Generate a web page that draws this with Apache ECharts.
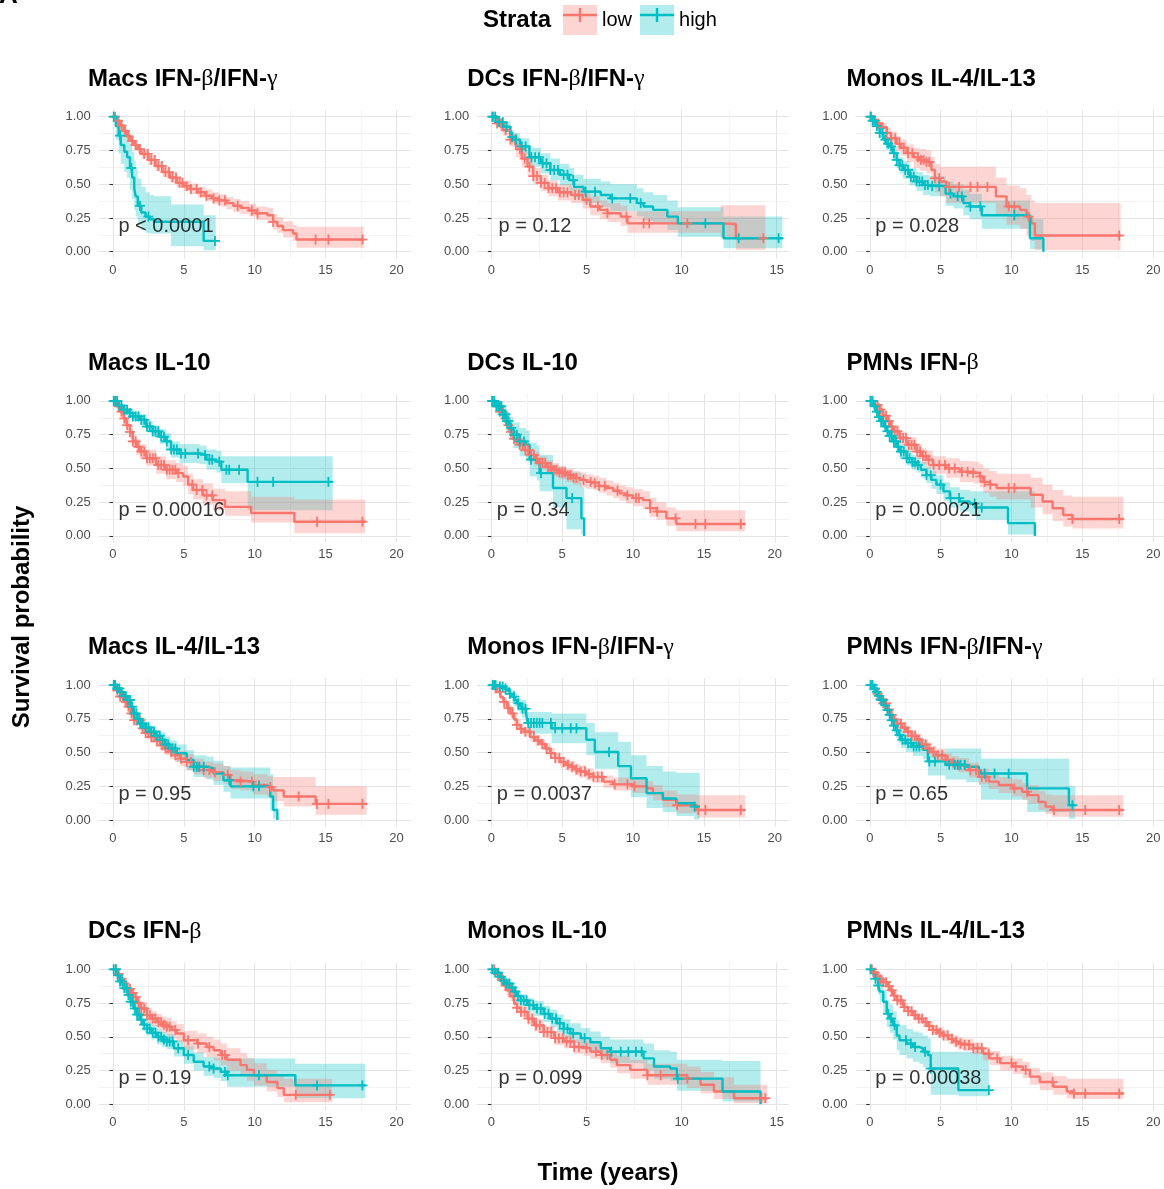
<!DOCTYPE html>
<html>
<head>
<meta charset="utf-8">
<script src="https://cdn.jsdelivr.net/npm/echarts@6/dist/echarts.min.js"></script>
<style>
  html, body { margin: 0; padding: 0; background: #ffffff; }
  #chart { width: 1164px; height: 1189px; }
</style>
</head>
<body>
<div id="chart"></div>
<script>
// Kaplan–Meier estimates per stratum.
// Each row: [time (years), survival, lower 95% CI, upper 95% CI]; the last row marks the end of follow-up.
// *_cens arrays hold the times of censored observations.

const macsIfnBG_low = [[0,1,1,1],[0.25,0.97,0.955,0.985],[0.5,0.935,0.915,0.955],[0.75,0.895,0.87,0.92],[1,0.855,0.83,0.88],[1.25,0.82,0.79,0.85],[1.5,0.79,0.76,0.82],[1.75,0.76,0.73,0.79],[2,0.725,0.69,0.76],[2.5,0.68,0.645,0.715],[3,0.635,0.6,0.67],[3.5,0.59,0.555,0.625],[4,0.55,0.515,0.585],[4.5,0.51,0.475,0.55],[5,0.485,0.45,0.525],[5.5,0.465,0.425,0.505],[6,0.44,0.4,0.48],[6.5,0.415,0.375,0.46],[7,0.395,0.355,0.44],[7.5,0.38,0.335,0.425],[8,0.36,0.315,0.405],[8.5,0.34,0.295,0.39],[9,0.325,0.28,0.375],[9.6,0.305,0.26,0.355],[10.1,0.285,0.235,0.335],[10.9,0.27,0.22,0.325],[11.3,0.22,0.165,0.28],[11.6,0.19,0.14,0.255],[12,0.16,0.105,0.225],[12.7,0.135,0.08,0.2],[12.95,0.09,0.03,0.185],[17.7,0.09,0.03,0.185]];
const macsIfnBG_lowCens = [0.15,0.35,0.6,0.85,1.1,1.35,1.6,1.9,2.2,2.45,2.7,2.95,3.2,3.45,3.7,3.95,4.2,4.45,4.7,4.9,5.2,5.5,5.9,6.2,6.6,7.1,7.5,7.9,8.8,9.8,10.2,11.3,14.3,15.2,17.6];
const macsIfnBG_high = [[0,1,1,1],[0.2,0.93,0.83,0.99],[0.4,0.86,0.73,0.96],[0.55,0.79,0.65,0.93],[0.8,0.74,0.59,0.9],[1,0.7,0.55,0.87],[1.2,0.62,0.46,0.8],[1.35,0.55,0.39,0.74],[1.5,0.47,0.31,0.67],[1.6,0.41,0.26,0.61],[1.75,0.34,0.2,0.54],[2,0.29,0.16,0.48],[2.3,0.26,0.14,0.44],[2.6,0.24,0.135,0.42],[2.9,0.222,0.135,0.41],[4.1,0.222,0.04,0.35],[6.4,0.08,0.01,0.27],[7.25,0.08,0.01,0.27]];
const macsIfnBG_highCens = [0.05,0.5,1.3,1.9,2.5,7.2];

const dcsIfnBG_low = [[0,1,1,1],[0.3,0.95,0.92,0.98],[0.6,0.9,0.86,0.94],[1,0.83,0.78,0.88],[1.3,0.76,0.7,0.81],[1.6,0.69,0.63,0.75],[1.9,0.63,0.57,0.69],[2.2,0.56,0.5,0.62],[2.6,0.51,0.45,0.57],[3,0.47,0.41,0.53],[3.5,0.44,0.38,0.5],[4.2,0.42,0.36,0.48],[4.8,0.385,0.32,0.45],[5.2,0.335,0.27,0.41],[5.7,0.31,0.24,0.38],[6.1,0.285,0.22,0.36],[6.8,0.26,0.19,0.34],[7.15,0.21,0.14,0.3],[12.05,0.205,0.1,0.345],[12.85,0.1,0.012,0.345],[14.4,0.1,0.012,0.345]];
const dcsIfnBG_lowCens = [0.1,0.3,0.5,0.75,1,1.25,1.5,1.75,2,2.2,2.4,2.6,2.8,3,3.2,3.4,3.6,3.8,4,4.4,4.6,5,5.6,6.1,7.1,8,8.3,10.3,14.3];
const dcsIfnBG_high = [[0,1,1,1],[0.3,0.96,0.93,0.99],[0.65,0.925,0.89,0.96],[1,0.85,0.8,0.9],[1.2,0.83,0.78,0.88],[1.5,0.78,0.72,0.84],[2,0.7,0.63,0.77],[2.6,0.655,0.58,0.73],[3.1,0.605,0.53,0.69],[3.6,0.57,0.49,0.65],[4.1,0.53,0.45,0.62],[4.35,0.48,0.4,0.57],[4.85,0.445,0.36,0.54],[5.75,0.42,0.33,0.52],[6.25,0.395,0.3,0.5],[7.65,0.36,0.26,0.47],[8,0.335,0.23,0.44],[8.5,0.31,0.21,0.42],[9.25,0.26,0.16,0.38],[9.8,0.21,0.11,0.33],[12.2,0.1,0.025,0.26],[15.3,0.1,0.025,0.26]];
const dcsIfnBG_highCens = [0.05,0.2,0.4,0.6,0.8,1.1,1.3,1.6,1.8,2.1,2.3,2.5,2.7,2.9,3.1,3.3,3.5,3.8,4,4.3,4.95,5.45,6.35,7.3,7.85,11.25,13,15.1];

const monosIl413_low = [[0,1,1,1],[0.25,0.975,0.955,0.995],[0.5,0.95,0.92,0.98],[0.8,0.92,0.885,0.955],[1.2,0.88,0.835,0.92],[1.5,0.84,0.79,0.89],[1.9,0.8,0.745,0.855],[2.2,0.77,0.71,0.83],[2.6,0.73,0.665,0.795],[3.1,0.7,0.62,0.77],[3.5,0.68,0.6,0.76],[4,0.665,0.58,0.75],[4.35,0.605,0.51,0.7],[4.6,0.545,0.44,0.65],[4.95,0.52,0.41,0.63],[5.4,0.48,0.36,0.63],[8.9,0.41,0.28,0.55],[9.65,0.335,0.2,0.49],[10.6,0.31,0.17,0.47],[11.05,0.26,0.12,0.42],[11.4,0.21,0.08,0.38],[11.65,0.12,0.012,0.36],[17.7,0.12,0.012,0.36]];
const monosIl413_lowCens = [0.1,0.3,0.6,0.9,1.2,1.5,1.8,2.1,2.4,2.7,3,3.4,3.6,3.8,4,4.2,4.6,4.9,5.6,6.3,7.1,7.6,8.3,9.8,10.2,11.2,17.6];
const monosIl413_high = [[0,1,1,1],[0.2,0.97,0.95,0.99],[0.45,0.93,0.9,0.96],[0.7,0.88,0.845,0.915],[0.95,0.83,0.79,0.87],[1.15,0.8,0.755,0.845],[1.4,0.78,0.73,0.83],[1.65,0.73,0.675,0.785],[1.9,0.68,0.62,0.74],[2.1,0.64,0.58,0.7],[2.35,0.605,0.54,0.67],[2.8,0.555,0.49,0.62],[3.3,0.52,0.45,0.59],[3.75,0.495,0.42,0.57],[4.2,0.485,0.41,0.56],[5.35,0.43,0.34,0.52],[5.9,0.41,0.32,0.5],[6.6,0.36,0.27,0.46],[7.05,0.335,0.24,0.43],[7.9,0.27,0.17,0.38],[11.3,0.1,0.02,0.24],[12.25,0,0,0]];
const monosIl413_highCens = [0.05,0.2,0.35,0.5,0.7,0.9,1.1,1.3,1.5,1.7,1.9,2.1,2.3,2.5,2.7,2.9,3.1,3.3,3.5,3.7,3.9,4.1,4.4,4.9,5.7,6.2,6.5,7.1,7.8,10.2];

const macsIl10_low = [[0,1,1,1],[0.25,0.96,0.94,0.98],[0.5,0.92,0.89,0.95],[0.75,0.87,0.83,0.91],[0.95,0.82,0.78,0.86],[1.2,0.77,0.72,0.82],[1.4,0.7,0.65,0.75],[1.65,0.66,0.6,0.72],[1.9,0.625,0.57,0.68],[2.35,0.575,0.52,0.64],[3.05,0.525,0.46,0.59],[3.75,0.49,0.42,0.56],[4.45,0.465,0.4,0.54],[4.95,0.44,0.37,0.52],[5.3,0.38,0.31,0.46],[5.65,0.34,0.27,0.42],[6.35,0.3,0.23,0.39],[7.05,0.265,0.19,0.35],[7.9,0.215,0.15,0.33],[9.75,0.17,0.1,0.29],[12.8,0.105,0.02,0.27],[17.8,0.105,0.02,0.27]];
const macsIl10_lowCens = [0.2,0.4,0.6,0.8,1,1.2,1.4,1.6,1.8,2,2.2,2.4,2.6,2.8,3,3.2,3.4,3.6,3.8,4,4.2,4.4,4.6,5.6,5.9,6.3,6.6,7,14.4,17.6];
const macsIl10_high = [[0,1,1,1],[0.35,0.965,0.95,0.98],[0.7,0.935,0.91,0.96],[1.05,0.91,0.88,0.94],[1.4,0.885,0.85,0.92],[1.9,0.86,0.82,0.9],[2.35,0.81,0.77,0.85],[2.8,0.775,0.73,0.82],[3.3,0.735,0.68,0.79],[3.75,0.7,0.64,0.76],[4.1,0.64,0.58,0.7],[4.7,0.61,0.54,0.68],[6.1,0.6,0.53,0.67],[6.6,0.565,0.49,0.64],[7.3,0.55,0.47,0.63],[7.65,0.49,0.39,0.59],[9.5,0.4,0.19,0.59],[15.5,0.4,0.19,0.59]];
const macsIl10_highCens = [0.05,0.15,0.3,0.45,0.6,0.8,1,1.2,1.4,1.6,1.8,2,2.2,2.4,2.6,2.8,3,3.2,3.4,3.6,3.8,4.1,4.3,4.5,4.8,5.1,6,6.5,6.8,7,7.5,8,8.2,8.9,10.2,11.3,15.2];

const dcsIl10_low = [[0,1,1,1],[0.3,0.96,0.94,0.98],[0.6,0.92,0.89,0.95],[0.85,0.87,0.84,0.9],[1.05,0.82,0.79,0.85],[1.3,0.77,0.73,0.81],[1.55,0.72,0.68,0.76],[2,0.675,0.63,0.72],[2.35,0.635,0.59,0.68],[2.7,0.6,0.55,0.65],[3.05,0.57,0.52,0.62],[3.4,0.54,0.49,0.59],[3.9,0.51,0.46,0.56],[4.35,0.49,0.44,0.54],[4.8,0.47,0.42,0.52],[5.3,0.45,0.4,0.5],[5.8,0.43,0.38,0.48],[6.25,0.415,0.36,0.47],[6.7,0.4,0.35,0.455],[7.2,0.39,0.34,0.445],[7.6,0.37,0.32,0.43],[8.1,0.355,0.3,0.41],[8.6,0.335,0.28,0.39],[9.05,0.315,0.26,0.375],[9.5,0.3,0.24,0.36],[10,0.28,0.22,0.345],[10.7,0.265,0.2,0.33],[11.2,0.205,0.14,0.28],[11.65,0.18,0.12,0.25],[12.35,0.13,0.075,0.21],[13.05,0.088,0.035,0.19],[17.9,0.088,0.035,0.19]];
const dcsIl10_lowCens = [0.2,0.4,0.6,0.8,1,1.2,1.4,1.6,1.8,2,2.2,2.4,2.6,2.8,3,3.2,3.4,3.6,3.8,4,4.2,4.4,4.6,4.8,5,5.2,5.4,5.6,5.8,6,6.5,7,7.3,7.6,8,8.9,9.6,10.2,10.4,11.2,11.7,13,14.4,15.1,17.6];
const dcsIl10_high = [[0,1,1,1],[0.35,0.96,0.92,1],[0.8,0.9,0.84,0.96],[1.05,0.85,0.77,0.92],[1.3,0.8,0.71,0.88],[1.55,0.75,0.65,0.84],[2,0.7,0.59,0.8],[2.45,0.675,0.56,0.78],[2.7,0.565,0.44,0.69],[3.2,0.54,0.41,0.67],[3.4,0.465,0.33,0.6],[4.35,0.355,0.21,0.51],[5.3,0.28,0.05,0.47],[6.35,0.13,0.01,0.36],[6.55,0,0,0]];
const dcsIl10_highCens = [0.05,0.2,0.35,0.5,0.6,0.7,0.8,0.9,1,1.1,1.2,1.4,1.6,1.8,2,2.3,2.8,3.5,5.7];

const pmnsIfnB_low = [[0,1,1,1],[0.3,0.97,0.95,0.99],[0.7,0.935,0.91,0.96],[0.95,0.89,0.86,0.92],[1.2,0.85,0.81,0.89],[1.45,0.81,0.77,0.85],[1.65,0.775,0.73,0.82],[2.1,0.725,0.68,0.77],[2.6,0.675,0.62,0.73],[3.3,0.625,0.57,0.68],[3.7,0.59,0.53,0.65],[4,0.565,0.5,0.63],[4.45,0.525,0.46,0.59],[5.4,0.5,0.43,0.575],[6.35,0.475,0.4,0.555],[7.3,0.465,0.39,0.55],[7.75,0.44,0.36,0.53],[8,0.4,0.32,0.5],[8.45,0.38,0.29,0.48],[8.95,0.355,0.27,0.46],[11.35,0.305,0.21,0.43],[12.2,0.255,0.16,0.38],[12.9,0.205,0.11,0.34],[13.65,0.155,0.07,0.3],[14.3,0.125,0.055,0.29],[17.9,0.125,0.055,0.29]];
const pmnsIfnB_lowCens = [0.15,0.35,0.55,0.75,0.95,1.15,1.35,1.55,1.75,1.95,2.15,2.35,2.55,2.75,2.95,3.15,3.35,3.55,3.75,3.95,4.15,4.5,4.9,5.3,5.6,6,6.5,6.9,7.3,7.8,8.1,8.5,9.8,10.2,14.3,17.6];
const pmnsIfnB_high = [[0,1,1,1],[0.25,0.96,0.94,0.98],[0.45,0.92,0.89,0.95],[0.65,0.88,0.85,0.91],[0.8,0.85,0.81,0.89],[1,0.81,0.77,0.85],[1.2,0.775,0.73,0.82],[1.4,0.74,0.69,0.79],[1.65,0.7,0.65,0.75],[1.9,0.66,0.61,0.71],[2.1,0.625,0.57,0.68],[2.6,0.575,0.52,0.63],[3,0.545,0.49,0.6],[3.3,0.525,0.47,0.58],[3.6,0.49,0.43,0.55],[4,0.45,0.39,0.51],[4.35,0.415,0.35,0.48],[4.7,0.38,0.31,0.45],[5.2,0.33,0.26,0.4],[5.65,0.28,0.21,0.36],[6.35,0.255,0.18,0.34],[7.05,0.24,0.16,0.33],[7.5,0.21,0.12,0.33],[9.75,0.095,0.01,0.33],[11.65,0,0,0]];
const pmnsIfnB_highCens = [0.05,0.2,0.35,0.5,0.65,0.8,0.95,1.1,1.25,1.4,1.55,1.7,1.85,2,2.2,2.4,2.6,2.8,3,3.2,3.4,4,4.3,5,5.7,6.3,7.4,7.9];

const macsIl413_low = [[0,1,1,1],[0.25,0.96,0.94,0.98],[0.5,0.915,0.89,0.94],[0.75,0.875,0.85,0.9],[1,0.84,0.81,0.87],[1.25,0.79,0.76,0.82],[1.45,0.74,0.7,0.78],[1.95,0.68,0.64,0.72],[2.3,0.645,0.6,0.69],[2.65,0.615,0.57,0.66],[3,0.585,0.54,0.63],[3.35,0.555,0.51,0.6],[3.7,0.53,0.48,0.58],[4.05,0.505,0.45,0.56],[4.4,0.48,0.43,0.53],[4.75,0.455,0.4,0.51],[5.2,0.43,0.37,0.49],[5.7,0.395,0.34,0.455],[6.4,0.37,0.31,0.435],[7.1,0.355,0.29,0.42],[7.8,0.335,0.27,0.4],[8.3,0.295,0.23,0.37],[9,0.285,0.22,0.36],[9.9,0.26,0.19,0.34],[10.9,0.245,0.17,0.325],[11.3,0.22,0.14,0.32],[12.05,0.175,0.1,0.32],[14.3,0.12,0.04,0.25],[17.9,0.12,0.04,0.25]];
const macsIl413_lowCens = [0.1,0.3,0.5,0.7,0.9,1.1,1.3,1.5,1.7,1.9,2.1,2.3,2.5,2.7,2.9,3.1,3.3,3.5,3.7,3.9,4.1,4.4,4.8,5.2,5.5,6,6.4,6.8,7.2,8.1,9,9.8,10.3,11.1,13.1,14.4,15.2,17.6];
const macsIl413_high = [[0,1,1,1],[0.25,0.975,0.96,0.99],[0.5,0.95,0.93,0.97],[0.75,0.92,0.89,0.95],[1,0.89,0.86,0.92],[1.25,0.84,0.8,0.88],[1.45,0.79,0.75,0.83],[1.7,0.75,0.71,0.79],[1.95,0.715,0.67,0.76],[2.3,0.685,0.64,0.73],[2.65,0.655,0.61,0.7],[3,0.625,0.58,0.67],[3.35,0.595,0.54,0.65],[3.7,0.56,0.5,0.62],[4.05,0.53,0.47,0.59],[4.5,0.495,0.43,0.56],[5.2,0.445,0.37,0.52],[5.7,0.395,0.32,0.48],[6.6,0.385,0.3,0.47],[7.1,0.345,0.26,0.44],[7.8,0.295,0.21,0.4],[8.3,0.25,0.16,0.39],[11.1,0.175,0.07,0.34],[11.3,0.075,0.01,0.25],[11.6,0,0,0]];
const macsIl413_highCens = [0.05,0.15,0.3,0.45,0.6,0.75,0.9,1.05,1.2,1.35,1.5,1.65,1.8,1.95,2.1,2.3,2.5,2.7,2.9,3.1,3.3,3.5,3.7,3.9,4.2,4.4,5.7,5.9,6.1,6.4,8.2,9.9,10.3];

const monosIfnBG_low = [[0,1,1,1],[0.2,0.975,0.96,0.99],[0.4,0.95,0.93,0.97],[0.65,0.91,0.89,0.93],[0.85,0.875,0.85,0.9],[1.1,0.83,0.8,0.86],[1.35,0.79,0.76,0.82],[1.6,0.745,0.71,0.78],[1.8,0.705,0.67,0.74],[2.05,0.675,0.64,0.71],[2.3,0.655,0.62,0.69],[2.75,0.615,0.58,0.65],[3.1,0.59,0.55,0.63],[3.45,0.565,0.53,0.6],[3.8,0.53,0.49,0.57],[4.15,0.495,0.455,0.535],[4.5,0.46,0.42,0.5],[4.85,0.43,0.39,0.47],[5.2,0.41,0.37,0.45],[5.55,0.395,0.35,0.44],[5.9,0.375,0.33,0.42],[6.25,0.36,0.315,0.405],[6.7,0.34,0.295,0.385],[7.2,0.32,0.275,0.365],[7.9,0.285,0.24,0.33],[8.6,0.265,0.22,0.315],[10,0.25,0.2,0.3],[11,0.235,0.18,0.29],[11.4,0.2,0.145,0.26],[12.1,0.15,0.095,0.22],[13.1,0.11,0.05,0.19],[14.5,0.075,0.02,0.185],[17.9,0.075,0.02,0.185]];
const monosIfnBG_lowCens = [0.3,0.6,0.9,1.2,1.5,1.8,2.1,2.4,2.7,3,3.3,3.6,3.9,4.2,4.5,4.8,5.1,5.4,5.7,6,6.3,6.6,6.9,7.2,7.5,7.8,8.7,9.6,10.1,13.1,14.6,15.1,17.6];
const monosIfnBG_high = [[0,1,1,1],[0.45,0.99,0.97,1],[0.9,0.975,0.95,1],[1.1,0.96,0.93,0.99],[1.3,0.935,0.9,0.97],[1.45,0.915,0.87,0.96],[1.65,0.89,0.84,0.94],[1.8,0.865,0.81,0.92],[2,0.845,0.79,0.9],[2.15,0.825,0.76,0.89],[2.45,0.79,0.72,0.86],[2.55,0.72,0.64,0.8],[4.25,0.68,0.57,0.79],[6.7,0.595,0.48,0.72],[7.3,0.505,0.38,0.65],[8.95,0.4,0.26,0.58],[9.85,0.31,0.17,0.48],[10.95,0.2,0.09,0.4],[12.1,0.16,0.06,0.36],[13.05,0.125,0.03,0.35],[14.3,0.1,0.005,0.35],[14.7,0.1,0.005,0.35]];
const monosIfnBG_highCens = [0.1,0.2,0.3,0.6,0.8,1,1.3,1.6,1.9,2.2,2.4,2.6,2.8,3,3.2,3.4,3.6,4.2,4.5,5,5.6,6,8.3,14.35];

const pmnsIfnBG_low = [[0,1,1,1],[0.25,0.97,0.95,0.99],[0.5,0.935,0.91,0.96],[0.75,0.895,0.87,0.92],[0.95,0.865,0.83,0.9],[1.2,0.82,0.785,0.855],[1.4,0.78,0.745,0.815],[1.65,0.745,0.71,0.78],[1.9,0.715,0.68,0.75],[2.25,0.685,0.645,0.725],[2.6,0.655,0.615,0.695],[2.95,0.625,0.585,0.665],[3.3,0.595,0.55,0.64],[3.65,0.56,0.515,0.605],[4,0.53,0.485,0.575],[4.35,0.505,0.46,0.55],[4.7,0.48,0.435,0.53],[5.35,0.445,0.395,0.495],[5.8,0.425,0.375,0.475],[6.3,0.405,0.355,0.46],[7,0.37,0.315,0.425],[7.7,0.32,0.265,0.38],[8.4,0.285,0.23,0.345],[9.1,0.26,0.2,0.32],[10.05,0.235,0.175,0.3],[10.75,0.21,0.15,0.275],[11.2,0.185,0.12,0.26],[11.9,0.135,0.075,0.215],[12.4,0.1,0.045,0.19],[12.85,0.075,0.025,0.185],[17.9,0.075,0.025,0.185]];
const pmnsIfnBG_lowCens = [0.15,0.35,0.55,0.75,0.95,1.15,1.35,1.55,1.75,1.95,2.2,2.45,2.7,2.95,3.2,3.45,3.7,3.95,4.2,4.5,4.8,5.1,5.5,5.9,6.3,6.7,7.1,7.5,7.9,8.2,10.2,11.1,13,15.2,17.6];
const pmnsIfnBG_high = [[0,1,1,1],[0.25,0.975,0.955,0.995],[0.45,0.95,0.925,0.975],[0.65,0.92,0.89,0.95],[0.8,0.89,0.855,0.925],[1,0.85,0.81,0.89],[1.15,0.815,0.77,0.86],[1.35,0.78,0.73,0.83],[1.5,0.74,0.69,0.79],[1.7,0.7,0.645,0.755],[1.85,0.665,0.61,0.72],[2.05,0.63,0.57,0.69],[2.2,0.595,0.535,0.66],[2.55,0.57,0.505,0.635],[3.05,0.545,0.475,0.615],[3.75,0.52,0.45,0.595],[4.1,0.435,0.33,0.5],[5.35,0.41,0.3,0.53],[6.8,0.395,0.28,0.53],[7.7,0.37,0.26,0.53],[7.85,0.345,0.15,0.457],[11.1,0.235,0.06,0.457],[14.05,0.11,0.01,0.25],[14.5,0.11,0.01,0.25]];
const pmnsIfnBG_highCens = [0.05,0.2,0.35,0.5,0.65,0.8,0.95,1.1,1.25,1.4,1.55,1.7,1.9,2.1,2.3,2.5,2.7,2.9,3.1,3.3,3.5,4.2,4.6,5.6,6,6.2,6.4,6.7,8.1,8.8,9.8,14.3];

const dcsIfnB_low = [[0,1,1,1],[0.25,0.965,0.945,0.985],[0.5,0.93,0.905,0.955],[0.75,0.895,0.865,0.925],[1,0.855,0.82,0.89],[1.25,0.825,0.785,0.865],[1.45,0.795,0.755,0.835],[1.7,0.75,0.705,0.795],[1.95,0.71,0.66,0.76],[2.4,0.66,0.605,0.715],[2.75,0.635,0.58,0.69],[3.1,0.61,0.55,0.67],[3.45,0.59,0.53,0.65],[3.8,0.575,0.51,0.64],[4.15,0.55,0.485,0.615],[4.5,0.525,0.46,0.595],[5,0.475,0.405,0.545],[5.95,0.45,0.38,0.525],[6.6,0.425,0.35,0.5],[7.1,0.4,0.325,0.48],[7.6,0.365,0.29,0.45],[8.05,0.33,0.25,0.415],[9,0.29,0.21,0.38],[9.45,0.255,0.175,0.345],[9.95,0.215,0.14,0.305],[10.85,0.165,0.095,0.255],[11.6,0.12,0.055,0.21],[12.05,0.07,0.015,0.19],[15.45,0.07,0.015,0.19]];
const dcsIfnB_lowCens = [0.2,0.4,0.6,0.8,1,1.2,1.4,1.6,1.8,2,2.2,2.4,2.6,2.8,3,3.2,3.4,3.6,3.8,4,4.4,5.3,6,6.8,7.7,7.9,12.9,15.3];
const dcsIfnB_high = [[0,1,1,1],[0.25,0.955,0.935,0.975],[0.5,0.91,0.885,0.935],[0.75,0.86,0.83,0.89],[1,0.81,0.775,0.845],[1.25,0.76,0.72,0.8],[1.45,0.71,0.67,0.75],[1.7,0.665,0.62,0.71],[1.95,0.625,0.58,0.67],[2.15,0.59,0.54,0.64],[2.4,0.56,0.51,0.61],[2.75,0.53,0.48,0.585],[3.1,0.5,0.445,0.555],[3.45,0.48,0.425,0.535],[3.8,0.465,0.41,0.52],[4.3,0.415,0.355,0.475],[5,0.365,0.3,0.43],[5.7,0.315,0.25,0.385],[6.4,0.28,0.21,0.35],[7.1,0.265,0.195,0.345],[7.6,0.24,0.17,0.33],[8.05,0.215,0.13,0.34],[12.87,0.14,0.045,0.3],[17.8,0.14,0.045,0.3]];
const dcsIfnB_highCens = [0.05,0.2,0.35,0.5,0.65,0.8,0.95,1.1,1.25,1.4,1.55,1.7,1.85,2,2.2,2.4,2.6,2.8,3,3.2,3.4,3.6,3.8,4,4.2,4.6,5.3,6.8,7.1,7.9,8.1,10.3,14.4,17.6];

const monosIl10_low = [[0,1,1,1],[0.2,0.965,0.945,0.985],[0.45,0.92,0.895,0.945],[0.65,0.88,0.85,0.91],[0.8,0.845,0.81,0.88],[1,0.8,0.765,0.835],[1.2,0.745,0.705,0.785],[1.35,0.715,0.675,0.755],[1.55,0.685,0.645,0.725],[1.9,0.635,0.59,0.68],[2.25,0.585,0.54,0.63],[2.75,0.535,0.49,0.58],[3.3,0.49,0.44,0.54],[3.8,0.465,0.415,0.515],[4.35,0.425,0.375,0.48],[4.85,0.415,0.36,0.47],[5.2,0.39,0.335,0.45],[5.75,0.365,0.305,0.425],[6.25,0.33,0.27,0.395],[6.6,0.29,0.23,0.36],[7.3,0.255,0.19,0.33],[8.2,0.215,0.145,0.3],[10.3,0.19,0.12,0.28],[11,0.145,0.08,0.24],[11.7,0.095,0.04,0.2],[12.75,0.045,0.008,0.145],[14.5,0.045,0.008,0.145]];
const monosIl10_lowCens = [0.15,0.35,0.55,0.75,0.95,1.15,1.35,1.55,1.75,1.95,2.15,2.35,2.55,2.75,2.95,3.15,3.35,3.55,3.75,3.95,4.15,4.35,4.6,5,5.5,5.8,6.1,8.2,8.9,10.3,14.2,14.4];
const monosIl10_high = [[0,1,1,1],[0.2,0.975,0.955,0.995],[0.45,0.945,0.92,0.97],[0.65,0.915,0.885,0.945],[0.8,0.895,0.86,0.93],[1,0.865,0.83,0.9],[1.2,0.835,0.795,0.875],[1.35,0.8,0.755,0.845],[1.55,0.77,0.725,0.815],[1.9,0.735,0.685,0.785],[2.25,0.71,0.655,0.765],[2.75,0.67,0.61,0.73],[3.1,0.635,0.57,0.7],[3.45,0.6,0.535,0.665],[3.8,0.56,0.49,0.63],[4.15,0.525,0.455,0.6],[4.7,0.49,0.415,0.565],[5.2,0.46,0.385,0.54],[5.75,0.415,0.335,0.5],[6.25,0.39,0.305,0.48],[8,0.34,0.25,0.45],[8.55,0.28,0.19,0.4],[9.4,0.265,0.175,0.39],[9.75,0.19,0.1,0.33],[12.15,0.095,0.02,0.32],[14.15,0,0,0]];
const monosIl10_highCens = [0.05,0.2,0.35,0.5,0.65,0.8,0.95,1.1,1.25,1.4,1.55,1.7,1.85,2,2.2,2.4,2.6,2.8,3,3.2,3.4,3.6,3.8,4,4.3,4.9,6.3,6.8,7.2,7.6,7.9,9.8];

const pmnsIl413_low = [[0,1,1,1],[0.25,0.975,0.96,0.99],[0.5,0.95,0.93,0.97],[0.75,0.925,0.905,0.945],[0.95,0.905,0.88,0.93],[1.2,0.875,0.85,0.9],[1.4,0.845,0.815,0.875],[1.65,0.805,0.775,0.835],[1.9,0.77,0.74,0.8],[2.35,0.72,0.685,0.755],[2.7,0.69,0.655,0.725],[3.05,0.66,0.625,0.695],[3.4,0.635,0.6,0.67],[3.75,0.61,0.575,0.645],[4.1,0.58,0.545,0.615],[4.45,0.55,0.515,0.59],[4.8,0.53,0.49,0.57],[5.2,0.51,0.47,0.55],[5.55,0.485,0.445,0.525],[5.9,0.465,0.42,0.51],[6.25,0.45,0.405,0.495],[6.6,0.44,0.395,0.485],[7.3,0.415,0.37,0.46],[8,0.375,0.325,0.425],[8.45,0.34,0.29,0.395],[9.2,0.305,0.25,0.36],[10.1,0.28,0.225,0.34],[10.8,0.255,0.195,0.315],[11.3,0.205,0.145,0.27],[12,0.165,0.105,0.235],[12.95,0.13,0.07,0.21],[13.9,0.095,0.045,0.19],[14.35,0.08,0.04,0.19],[17.9,0.08,0.04,0.19]];
const pmnsIl413_lowCens = [0.15,0.35,0.55,0.75,0.95,1.15,1.35,1.55,1.75,1.95,2.2,2.45,2.7,2.95,3.2,3.45,3.7,3.95,4.2,4.45,4.7,4.95,5.2,5.5,5.8,6.1,6.4,6.7,7,7.3,7.6,7.9,8.4,9,10,10.3,11,12.9,14.4,15.2,17.6];
const pmnsIl413_high = [[0,1,1,1],[0.25,0.965,0.93,1],[0.35,0.93,0.88,0.98],[0.6,0.88,0.81,0.95],[0.7,0.835,0.76,0.91],[0.95,0.76,0.67,0.85],[1.2,0.67,0.57,0.77],[1.4,0.635,0.53,0.74],[1.65,0.585,0.48,0.69],[1.9,0.51,0.4,0.62],[2.1,0.475,0.365,0.585],[2.6,0.45,0.34,0.56],[3.05,0.425,0.315,0.54],[3.5,0.415,0.3,0.53],[3.75,0.39,0.275,0.51],[4.1,0.365,0.25,0.49],[4.3,0.265,0.07,0.39],[6.25,0.105,0.06,0.39],[8.4,0.105,0.06,0.39]];
const pmnsIl413_highCens = [0.05,0.4,0.6,1.3,1.5,1.75,2.55,2.9,3.2,3.9,4.3,8.4];

// Panel order (row by row)
const panelTitles = ['Macs IFN-β/IFN-γ', 'DCs IFN-β/IFN-γ', 'Monos IL-4/IL-13', 'Macs IL-10', 'DCs IL-10', 'PMNs IFN-β', 'Macs IL-4/IL-13', 'Monos IFN-β/IFN-γ', 'PMNs IFN-β/IFN-γ', 'DCs IFN-β', 'Monos IL-10', 'PMNs IL-4/IL-13'];
const pValueLabels = ['p < 0.0001', 'p = 0.12', 'p = 0.028', 'p = 0.00016', 'p = 0.34', 'p = 0.00021', 'p = 0.95', 'p = 0.0037', 'p = 0.65', 'p = 0.19', 'p = 0.099', 'p = 0.00038'];
const timeLimits = [20, 14.9, 20, 20, 20, 20, 20, 20, 20, 20, 14.9, 20];   // x-scale limits before 5% expansion
const timeTickMax = [20, 15, 20, 20, 20, 20, 20, 20, 20, 20, 15, 20];      // last labelled tick
const strataNames = ['low', 'high'];

const lowCurves = [macsIfnBG_low, dcsIfnBG_low, monosIl413_low, macsIl10_low, dcsIl10_low, pmnsIfnB_low, macsIl413_low, monosIfnBG_low, pmnsIfnBG_low, dcsIfnB_low, monosIl10_low, pmnsIl413_low];
const lowCensored = [macsIfnBG_lowCens, dcsIfnBG_lowCens, monosIl413_lowCens, macsIl10_lowCens, dcsIl10_lowCens, pmnsIfnB_lowCens, macsIl413_lowCens, monosIfnBG_lowCens, pmnsIfnBG_lowCens, dcsIfnB_lowCens, monosIl10_lowCens, pmnsIl413_lowCens];
const highCurves = [macsIfnBG_high, dcsIfnBG_high, monosIl413_high, macsIl10_high, dcsIl10_high, pmnsIfnB_high, macsIl413_high, monosIfnBG_high, pmnsIfnBG_high, dcsIfnB_high, monosIl10_high, pmnsIl413_high];
const highCensored = [macsIfnBG_highCens, dcsIfnBG_highCens, monosIl413_highCens, macsIl10_highCens, dcsIl10_highCens, pmnsIfnB_highCens, macsIl413_highCens, monosIfnBG_highCens, pmnsIfnBG_highCens, dcsIfnB_highCens, monosIl10_highCens, pmnsIl413_highCens];

// ---- styling / layout ----
const FONT = '"Liberation Sans", Arial, Helvetica, sans-serif';
const LINE_COLOR = { low: '#F8766D', high: '#00BFC4' };
const BAND_COLOR = { low: 'rgba(248,118,109,0.3)', high: 'rgba(0,191,196,0.3)' };
const MAJOR_GRID = '#e4e4e4';
const MINOR_GRID = '#f2f2f2';
const TICK_TEXT = '#4d4d4d';
const CURVE_WIDTH = 2.4;
const CENSOR_HALF = 5, CENSOR_WIDTH = 1.8;

const PANEL_LEFT = 98.8, PANEL_COL_STEP = 378.4, PANEL_ROW_STEP = 284.2;
const PANEL_WIDTH = 311.8, PLOT_TOP = 116.7, PLOT_HEIGHT = 135, Y_EXPAND = 6.75;
const TITLE_LEFT = 88, TITLE_COL_STEP = 379.2, TITLE_TOP = 66;
const PVAL_ANCHOR = [0.35, 0.19];

function survivalAt(rows, t) {
  let s = rows[0][1];
  for (const r of rows) { if (r[0] <= t) s = r[1]; else break; }
  return s;
}

function bandSeries(rows, axis, stratum) {
  const fill = BAND_COLOR[stratum];
  return {
    type: 'custom', name: stratum, xAxisIndex: axis, yAxisIndex: axis,
    z: 1, silent: true, clip: false, data: rows,
    renderItem(params, api) {
      if (params.dataIndex !== 0) return null;
      const upper = [], lower = [];
      for (let i = 0; i < rows.length; i++) {
        const t0 = rows[i][0];
        const t1 = i + 1 < rows.length ? rows[i + 1][0] : t0;
        upper.push(api.coord([t0, rows[i][3]]), api.coord([t1, rows[i][3]]));
        lower.push(api.coord([t0, rows[i][2]]), api.coord([t1, rows[i][2]]));
      }
      return { type: 'polygon', shape: { points: upper.concat(lower.reverse()) }, style: { fill: fill } };
    }
  };
}

function curveSeries(rows, axis, stratum) {
  return {
    type: 'line', name: stratum, xAxisIndex: axis, yAxisIndex: axis,
    z: 2, silent: true, clip: false, step: 'end', symbol: 'none', showSymbol: false,
    data: rows.map(r => [r[0], r[1]]),
    lineStyle: { color: LINE_COLOR[stratum], width: CURVE_WIDTH },
    itemStyle: { color: LINE_COLOR[stratum] }
  };
}

function censorSeries(rows, times, axis, stratum) {
  const stroke = LINE_COLOR[stratum];
  return {
    type: 'custom', name: stratum, xAxisIndex: axis, yAxisIndex: axis,
    z: 3, silent: true, clip: false,
    data: times.map(t => [t, survivalAt(rows, t)]),
    renderItem(params, api) {
      const p = api.coord([api.value(0), api.value(1)]);
      const h = CENSOR_HALF;
      return {
        type: 'group',
        children: [
          { type: 'line', shape: { x1: p[0] - h, y1: p[1], x2: p[0] + h, y2: p[1] }, style: { stroke: stroke, lineWidth: CENSOR_WIDTH } },
          { type: 'line', shape: { x1: p[0], y1: p[1] - h, x2: p[0], y2: p[1] + h }, style: { stroke: stroke, lineWidth: CENSOR_WIDTH } }
        ]
      };
    }
  };
}

const grids = [], xAxes = [], yAxes = [], series = [], titles = [];

panelTitles.forEach((title, k) => {
  const row = Math.floor(k / 3), col = k % 3;
  const left = PANEL_LEFT + PANEL_COL_STEP * col;
  const top = PLOT_TOP + PANEL_ROW_STEP * row;
  const L = timeLimits[k];
  const pxPerYear = PANEL_WIDTH / (1.1 * L);
  const a = 2 * k, b = 2 * k + 1;

  // grid a: full panel width, survival 0..1 (curves, y labels, horizontal grid lines)
  grids.push({ left: left, top: top, width: PANEL_WIDTH, height: PLOT_HEIGHT, outerBoundsMode: 'none' });
  // grid b: time 0..tick max, full panel height (x labels, vertical grid lines)
  grids.push({ left: left + 0.05 * L * pxPerYear, top: top - Y_EXPAND, width: timeTickMax[k] * pxPerYear, height: PLOT_HEIGHT + 2 * Y_EXPAND, outerBoundsMode: 'none' });

  xAxes.push({ gridIndex: a, type: 'value', min: -0.05 * L, max: 1.05 * L, show: false });
  yAxes.push({
    gridIndex: a, type: 'value', min: 0, max: 1, interval: 0.25,
    axisLine: { show: false },
    axisTick: { show: true, length: 3.5, lineStyle: { color: '#333333', width: 1.1 } },
    axisLabel: { fontSize: 13, color: TICK_TEXT, margin: 8, fontFamily: FONT, formatter: v => v.toFixed(2) },
    splitLine: { show: true, lineStyle: { color: MAJOR_GRID, width: 1 } },
    minorTick: { show: false, splitNumber: 2 },
    minorSplitLine: { show: true, lineStyle: { color: MINOR_GRID, width: 1 } }
  });
  xAxes.push({
    gridIndex: b, type: 'value', min: 0, max: timeTickMax[k], interval: 5,
    axisLine: { show: false }, axisTick: { show: false },
    axisLabel: { fontSize: 13, color: TICK_TEXT, margin: 5, fontFamily: FONT },
    splitLine: { show: true, lineStyle: { color: MAJOR_GRID, width: 1 } },
    minorTick: { show: false, splitNumber: 2 },
    minorSplitLine: { show: true, lineStyle: { color: MINOR_GRID, width: 1 } }
  });
  yAxes.push({ gridIndex: b, type: 'value', min: 0, max: 1, show: false });

  series.push(bandSeries(highCurves[k], a, 'high'));
  series.push(bandSeries(lowCurves[k], a, 'low'));
  series.push(curveSeries(lowCurves[k], a, 'low'));
  series.push(curveSeries(highCurves[k], a, 'high'));
  series.push(censorSeries(lowCurves[k], lowCensored[k], a, 'low'));
  series.push(censorSeries(highCurves[k], highCensored[k], a, 'high'));
  series.push({
    type: 'scatter', name: 'p-value', xAxisIndex: a, yAxisIndex: a, z: 4, silent: true,
    symbolSize: 1, itemStyle: { color: 'rgba(0,0,0,0)' },
    data: [PVAL_ANCHOR],
    label: { show: true, position: 'right', distance: 0, formatter: pValueLabels[k], fontSize: 20, color: '#000', fontFamily: FONT }
  });

  titles.push({
    text: title.replace(/([βγ])/g, '{g|$1}'),
    left: TITLE_LEFT + TITLE_COL_STEP * col,
    top: TITLE_TOP + PANEL_ROW_STEP * row,
    padding: 0,
    textStyle: {
      fontFamily: FONT, fontWeight: 'bold', fontSize: 24, color: '#000', lineHeight: 26,
      rich: { g: { fontFamily: '"Liberation Serif", "DejaVu Serif", serif', fontWeight: 'normal', fontSize: 24, color: '#000', lineHeight: 26 } }
    }
  });
});

titles.push({ text: 'Strata', left: 483, top: 7, padding: 0, textStyle: { fontFamily: FONT, fontWeight: 'bold', fontSize: 24, color: '#000', lineHeight: 26 } });

const legendBase = {
  left: 563, top: 5, orient: 'horizontal', itemWidth: 34, itemHeight: 30, itemGap: 8,
  selectedMode: false, padding: 0
};
const CROSS_ICON = 'path://M0,13.8L34,13.8L34,16.2L0,16.2Z M15.8,8L18.2,8L18.2,22L15.8,22Z';

const option = {
  animation: false,
  backgroundColor: '#ffffff',
  textStyle: { fontFamily: FONT },
  title: titles,
  legend: [
    Object.assign({}, legendBase, {
      textStyle: { fontSize: 20, color: '#000', fontFamily: FONT },
      data: strataNames.map(n => ({ name: n, icon: 'rect', itemStyle: { color: BAND_COLOR[n], borderWidth: 0 } }))
    }),
    Object.assign({}, legendBase, {
      textStyle: { fontSize: 20, color: 'rgba(0,0,0,0)', fontFamily: FONT },
      data: strataNames.map(n => ({ name: n, icon: CROSS_ICON, itemStyle: { color: LINE_COLOR[n], borderWidth: 0 } }))
    })
  ],
  grid: grids,
  xAxis: xAxes,
  yAxis: yAxes,
  series: series,
  graphic: [
    { type: 'text', x: 22, y: 617, rotation: Math.PI / 2,
      style: { text: 'Survival probability', font: 'bold 24px ' + FONT, fill: '#000', align: 'center', verticalAlign: 'middle', textAlign: 'center', textVerticalAlign: 'middle' } },
    { type: 'text', x: 608, y: 1173,
      style: { text: 'Time (years)', font: 'bold 24px ' + FONT, fill: '#000', align: 'center', verticalAlign: 'middle', textAlign: 'center', textVerticalAlign: 'middle' } },
    { type: 'text', x: -1, y: 9,
      style: { text: 'A', font: 'bold 26px ' + FONT, fill: '#000', align: 'left', verticalAlign: 'bottom', textAlign: 'left', textVerticalAlign: 'bottom' } }
  ]
};

const chart = echarts.init(document.getElementById('chart'), null, { renderer: 'canvas' });
chart.setOption(option);
</script>
</body>
</html>
